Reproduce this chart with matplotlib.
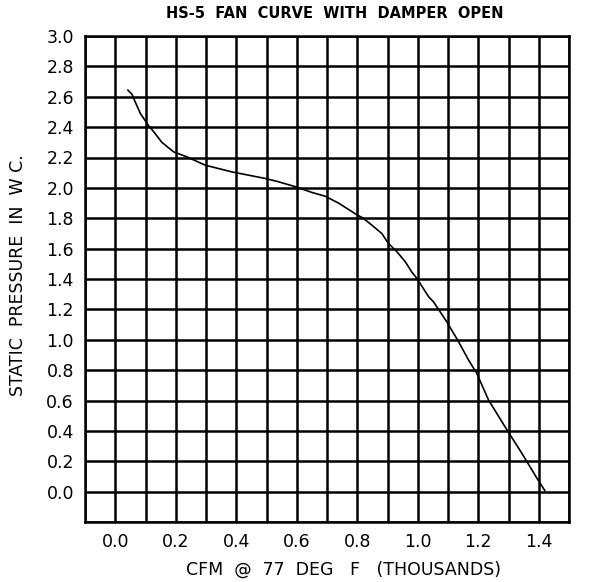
import numpy as np
import matplotlib
matplotlib.use("Agg")
import matplotlib.pyplot as plt

cfm = [0.042, 0.055, 0.066, 0.083, 0.11, 0.127, 0.154, 0.193, 0.237, 0.298,
       0.386, 0.496, 0.54, 0.60, 0.65, 0.694, 0.738, 0.793, 0.82, 0.848,
       0.881, 0.903, 0.931, 0.959, 0.98, 0.997, 1.036, 1.052, 1.096, 1.135,
       1.168, 1.195, 1.234, 1.295, 1.344, 1.394, 1.42]
pressure = [2.643, 2.617, 2.566, 2.49, 2.41, 2.37, 2.30, 2.237, 2.204, 2.149,
            2.105, 2.062, 2.04, 2.005, 1.97, 1.945, 1.90, 1.83, 1.80, 1.755,
            1.70, 1.634, 1.58, 1.513, 1.447, 1.404, 1.283, 1.25, 1.118, 0.987,
            0.866, 0.779, 0.603, 0.406, 0.253, 0.088, 0.007]

x_grid = [round(-0.1 + 0.1 * i, 1) for i in range(17)]
x_labels = ["0.0", "0.2", "0.4", "0.6", "0.8", "1.0", "1.2", "1.4"]
y_grid = [round(-0.2 + 0.2 * i, 1) for i in range(17)]
y_labels = ["0.0", "0.2", "0.4", "0.6", "0.8", "1.0", "1.2", "1.4", "1.6",
            "1.8", "2.0", "2.2", "2.4", "2.6", "2.8", "3.0"]

title = "HS-5  FAN  CURVE  WITH  DAMPER  OPEN"
xlabel = "CFM  @  77  DEG   F   (THOUSANDS)"
ylabel = "STATIC  PRESSURE  IN  W C."

fig = plt.figure(figsize=(5.9, 5.82), dpi=100)
ax = fig.add_axes([85/590, 1-522/582, (569-85)/590, (522-36)/582])

ax.plot(cfm, pressure, color="black", lw=1.2)
ax.set_xlim(-0.1, 1.5)
ax.set_ylim(-0.2, 3.0)

ax.set_xticks(x_grid)
ax.set_xticklabels([f"{v:.1f}" if f"{v:.1f}" in x_labels else "" for v in x_grid])
ax.set_yticks(y_grid)
ax.set_yticklabels([f"{v:.1f}" if f"{v:.1f}" in y_labels else "" for v in y_grid])
ax.grid(True, color="black", lw=1.8)
ax.tick_params(length=0, pad=8, labelsize=12.5)
for s in ax.spines.values():
    s.set_linewidth(1.8)

fig.text(335/590, 1-14/582, title, ha="center", va="center", fontsize=10.5,
         fontweight="bold")
fig.text(343/590, 1-570/582, xlabel, ha="center", va="center", fontsize=12.5)
fig.text(18/590, 1-275/582, ylabel, ha="center", va="center", fontsize=12.5,
         rotation=90)

fig.savefig("out.png", dpi=100)
